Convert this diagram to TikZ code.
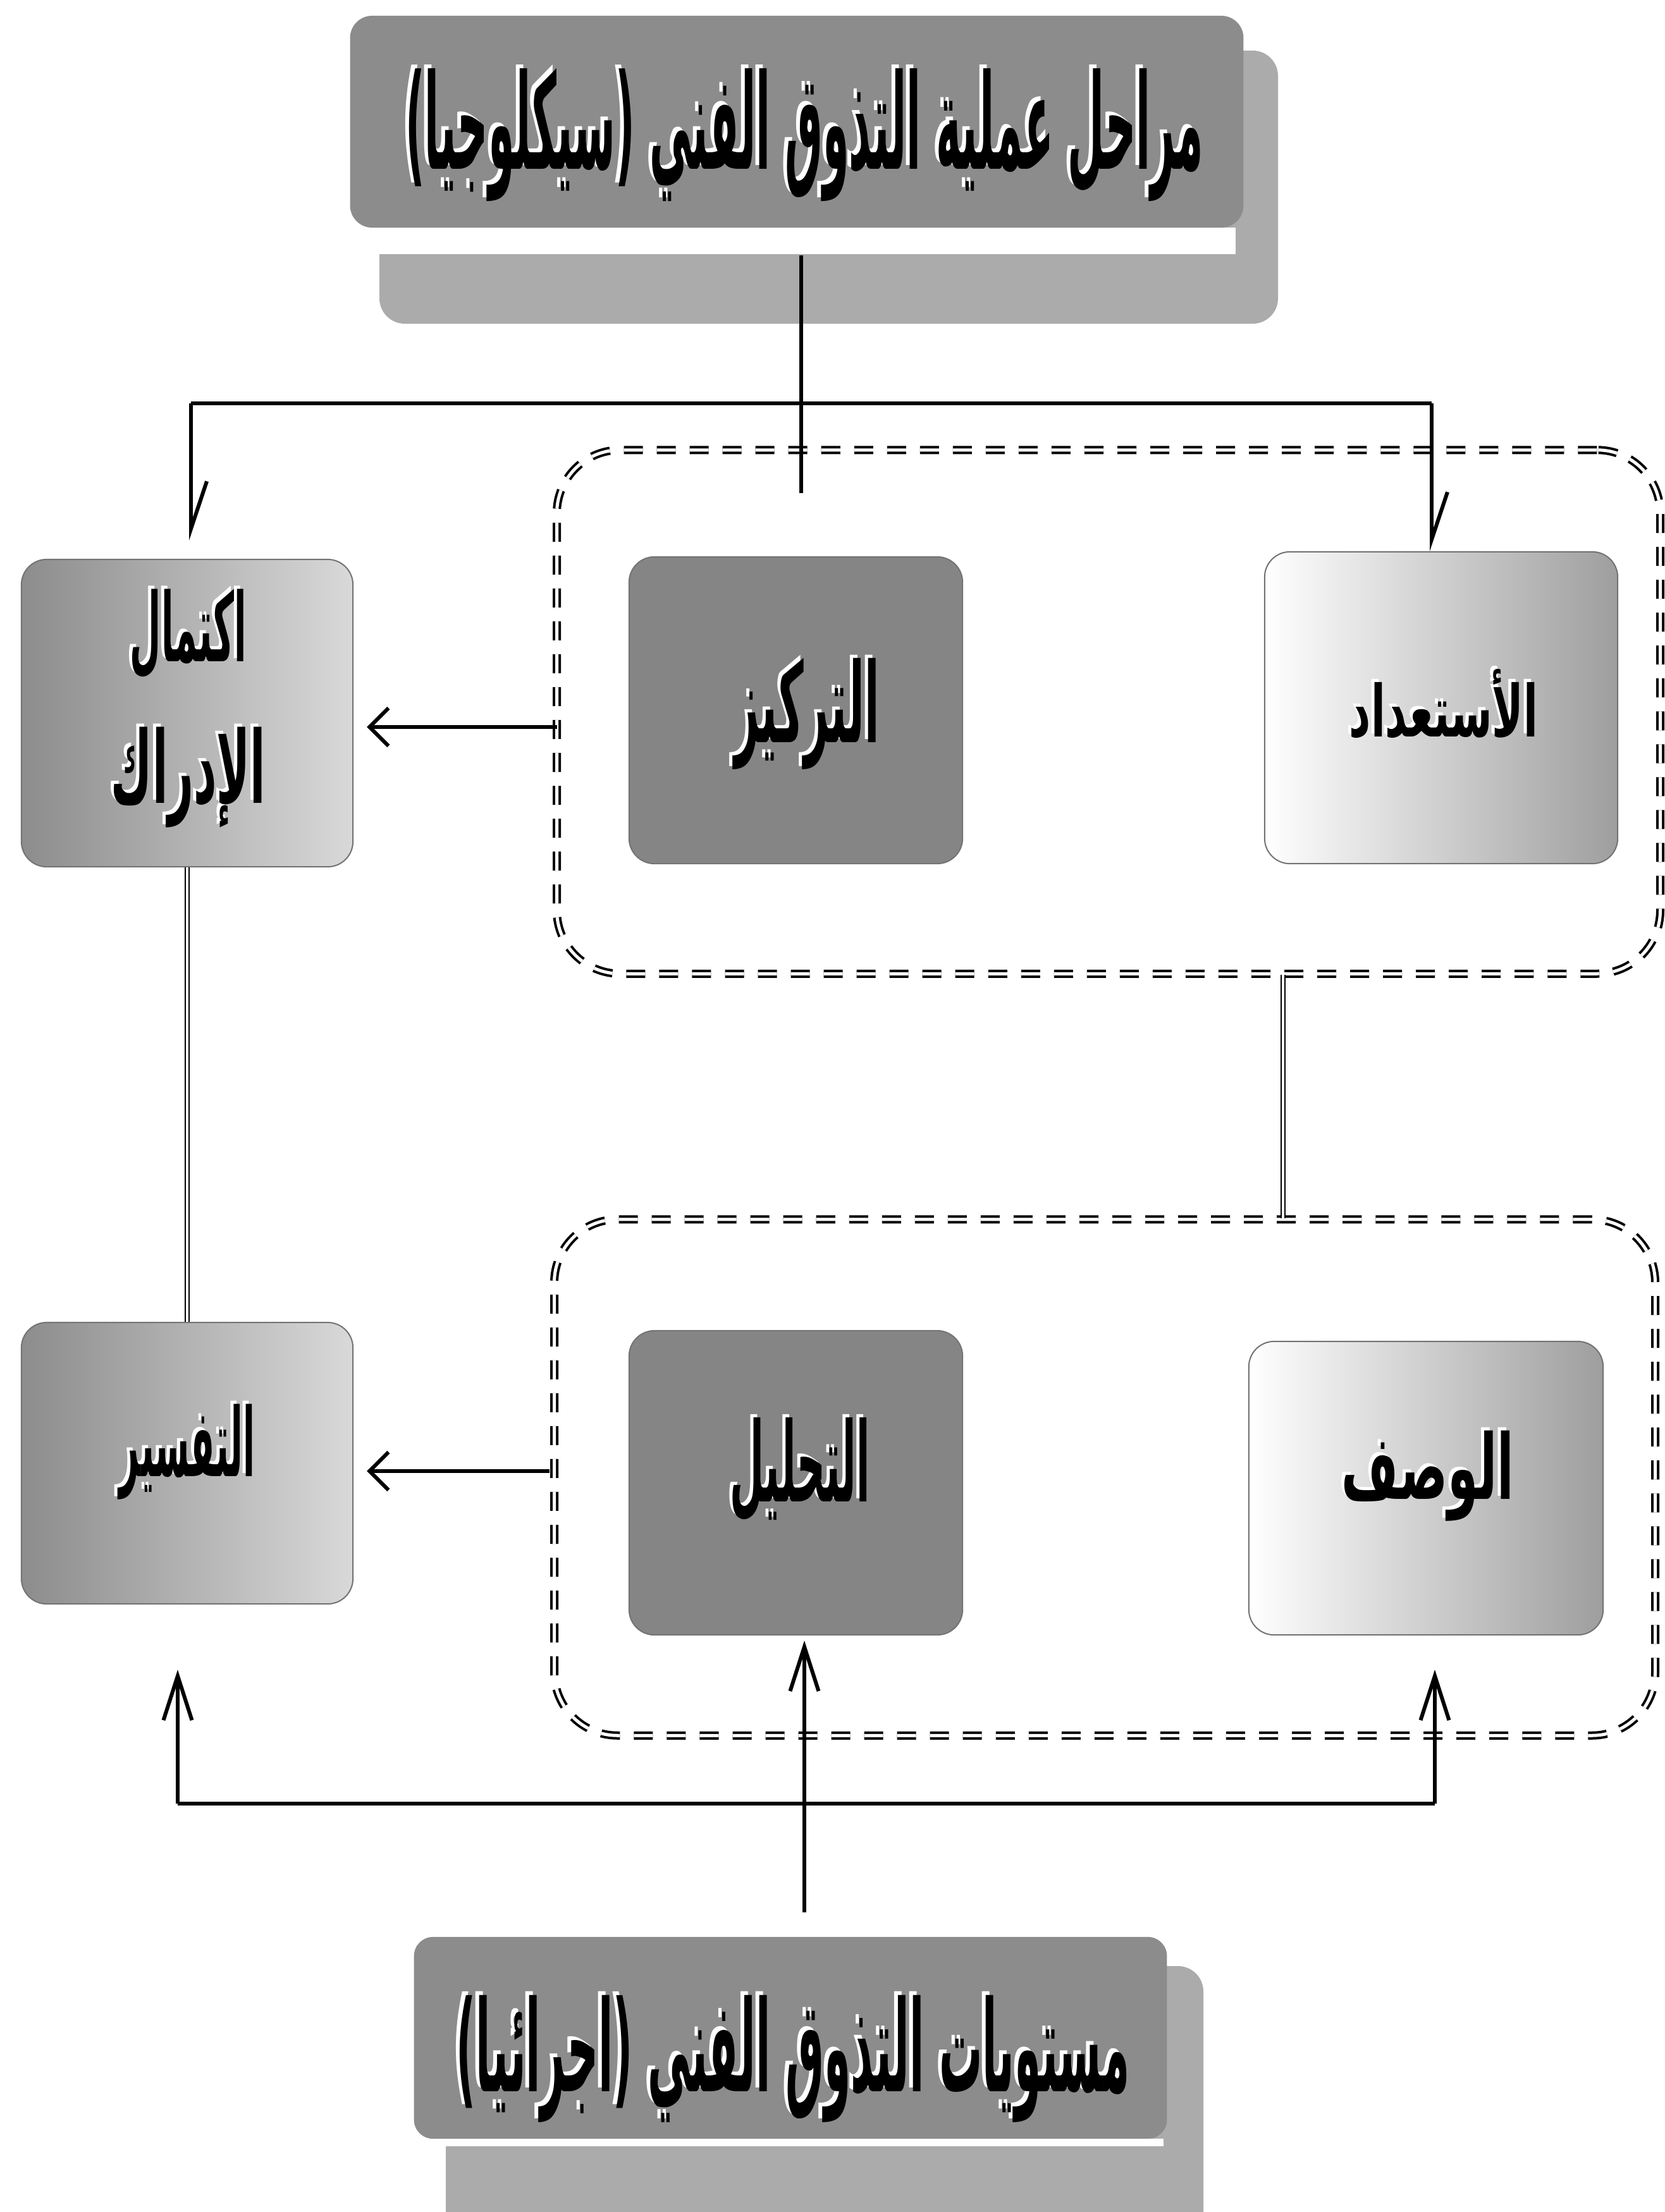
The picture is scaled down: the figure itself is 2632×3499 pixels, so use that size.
\documentclass[tikz,border=0pt]{standalone}
\usepackage{graphicx}
\usepackage{fontspec}
\newfontfamily\arabicfont[Script=Arabic]{DejaVu Sans}
\TeXXeTstate=1
\usetikzlibrary{arrows.meta,calc}
\newcommand\artext[3]{\resizebox*{#1}{#2}{\arabicfont\bfseries #3}}
\begin{document}
\begin{tikzpicture}[x=0.01cm,y=-0.01cm,
  conn/.style={line width=0.06cm, black},
  dblline/.style={double, double distance=0.045cm, line width=0.02cm},
  grp/.style={rectangle, draw, dash pattern=on 0.3cm off 0.22cm, double, double distance=0.05cm, line width=0.04cm, rounded corners=1cm, inner sep=0},
  box/.style={rectangle, rounded corners=0.4cm, draw=black!55, line width=0.02cm, inner sep=0},
  lbl/.style={inner sep=0, text=black},
  hl/.style={inner sep=0, text=white},
  downharp/.style={-{Straight Barb[left,length=0.75cm,width=0.5cm]}},
  uparr/.style={-{Straight Barb[length=0.7cm,width=0.45cm]}},
  sidearr/.style={-{Straight Barb[length=0.3cm,width=0.6cm]}},
  darkfill/.style={fill=black!48},
  midfill/.style={left color=black!45, right color=black!15},
  lightfill/.style={left color=white, right color=black!38},
  shadowfill/.style={fill=black!33},
  titlefill/.style={fill=black!45, draw=none}
]
\useasboundingbox (0,0) rectangle (2632,3499);

% ---------- top title ----------
\fill[shadowfill, rounded corners=0.4cm] (600,80) rectangle (2021,512);
\fill[white] (554,360) rectangle (1954,402);
\node[rectangle, rounded corners=0.35cm, titlefill, minimum width=14.12cm, minimum height=3.35cm, inner sep=0] (title) at (1260,192.5) {};
\node[hl] (titlehl) at (1266,208) {\artext{12.61cm}{2.10cm}{\beginR مراحل عملية التذوق الفني (سيكلوجيا)\endR}};
\node[lbl] (titletxt) at (1272,214) {\artext{12.61cm}{2.10cm}{\beginR مراحل عملية التذوق الفني (سيكلوجيا)\endR}};

% ---------- bottom title ----------
\fill[shadowfill, rounded corners=0.4cm] (705,3110) rectangle (1903,3560);
\fill[white] (655,3383) rectangle (1840,3395);
\node[rectangle, rounded corners=0.3cm, titlefill, minimum width=11.90cm, minimum height=3.19cm, inner sep=0] (btitle) at (1250,3223.5) {};
\node[hl] (btitlehl) at (1248,3251) {\artext{10.64cm}{2.01cm}{\beginR مستويات التذوق الفني (اجرائيا)\endR}};
\node[lbl] (btitletxt) at (1254,3257) {\artext{10.64cm}{2.01cm}{\beginR مستويات التذوق الفني (اجرائيا)\endR}};

% ---------- dashed groups ----------
\node[grp, minimum width=17.44cm, minimum height=8.28cm] (grp1) at (1753,1126) {};
\node[grp, minimum width=17.40cm, minimum height=8.16cm] (grp2) at (1747,2337) {};

% ---------- boxes ----------
\node[box, midfill, minimum width=5.24cm, minimum height=4.86cm] (ekt) at (296,1128) {};
\node[box, darkfill, minimum width=5.27cm, minimum height=4.85cm] (tark) at (1258.5,1123.5) {};
\node[box, lightfill, minimum width=5.58cm, minimum height=4.93cm] (prep) at (2279,1119.5) {};
\node[box, midfill, minimum width=5.24cm, minimum height=4.45cm] (tafsir) at (296,2314.5) {};
\node[box, darkfill, minimum width=5.27cm, minimum height=4.81cm] (tahlil) at (1258.5,2345.5) {};
\node[box, lightfill, minimum width=5.60cm, minimum height=4.64cm] (wasf) at (2255,2354) {};

% ---------- box labels ----------
\node[hl] (ekt1hl) at (293,998) {\artext{1.84cm}{1.42cm}{\beginR اكتمال\endR}};
\node[lbl] (ekt1) at (298,1003) {\artext{1.84cm}{1.42cm}{\beginR اكتمال\endR}};
\node[hl] (ekt2hl) at (293,1225) {\artext{2.44cm}{1.59cm}{\beginR الإدراك\endR}};
\node[lbl] (ekt2) at (298,1230) {\artext{2.44cm}{1.59cm}{\beginR الإدراك\endR}};
\node[hl] (tarkhl) at (1271,1124) {\artext{2.29cm}{1.76cm}{\beginR التركيز\endR}};
\node[lbl] (tarktxt) at (1276,1129) {\artext{2.29cm}{1.76cm}{\beginR التركيز\endR}};
\node[hl] (prephl) at (2278,1108) {\artext{2.98cm}{1.10cm}{\beginR الأستعداد\endR}};
\node[lbl] (preptxt) at (2283,1113) {\artext{2.98cm}{1.10cm}{\beginR الأستعداد\endR}};
\node[hl] (tafsirhl) at (291,2292) {\artext{2.14cm}{1.51cm}{\beginR التفسير\endR}};
\node[lbl] (tafsirtxt) at (296,2297) {\artext{2.14cm}{1.51cm}{\beginR التفسير\endR}};
\node[hl] (tahlilhl) at (1260,2320) {\artext{2.21cm}{1.65cm}{\beginR التحليل\endR}};
\node[lbl] (tahliltxt) at (1265,2325) {\artext{2.21cm}{1.65cm}{\beginR التحليل\endR}};
\node[hl] (wasfhl) at (2253,2330) {\artext{2.72cm}{1.43cm}{\beginR الوصف\endR}};
\node[lbl] (wasftxt) at (2258,2335) {\artext{2.72cm}{1.43cm}{\beginR الوصف\endR}};

% ---------- junction coordinates ----------
\coordinate (jt) at (1267,638);
\coordinate (jl) at (302,638);
\coordinate (jr) at (2264,638);
\coordinate (tend) at (1267,780);
\coordinate (a1) at (881,1150);
\coordinate (a2) at (869,2327);
\coordinate (vx) at (2029,0);
\coordinate (bl) at (281,2853);
\coordinate (br) at (2269,2853);
\coordinate (jb) at (1272,2853);

% ---------- connectors (top) ----------
\draw[conn, shorten <=0.43cm] (title.south -| jt) -- (tend);
\draw[conn] (jl) -- (jr);
\draw[conn, downharp, shorten >=0.29cm] (jl) -- (jl |- ekt.north);
\draw[conn, downharp] (jr) -- (jr |- prep.north);
\draw[conn, sidearr, shorten >=0.21cm] (a1) -- (ekt.east |- a1);
\draw[dblline] (ekt.south) -- (tafsir.north);
\draw[dblline] (grp1.south -| vx) -- (grp2.north -| vx);
\draw[conn, sidearr, shorten >=0.21cm] (a2) -- (tafsir.east |- a2);

% ---------- connectors (bottom) ----------
\draw[conn] (bl) -- (br);
\draw[conn, uparr, shorten >=1.03cm] (bl) -- (bl |- tafsir.south);
\draw[conn, uparr, shorten >=0.08cm] (jb) -- (jb |- tahlil.south);
\draw[conn, uparr, shorten >=0.54cm] (br) -- (br |- wasf.south);
\draw[conn, shorten >=0.38cm] (jb) -- (jb |- btitle.north);
\end{tikzpicture}
\end{document}
